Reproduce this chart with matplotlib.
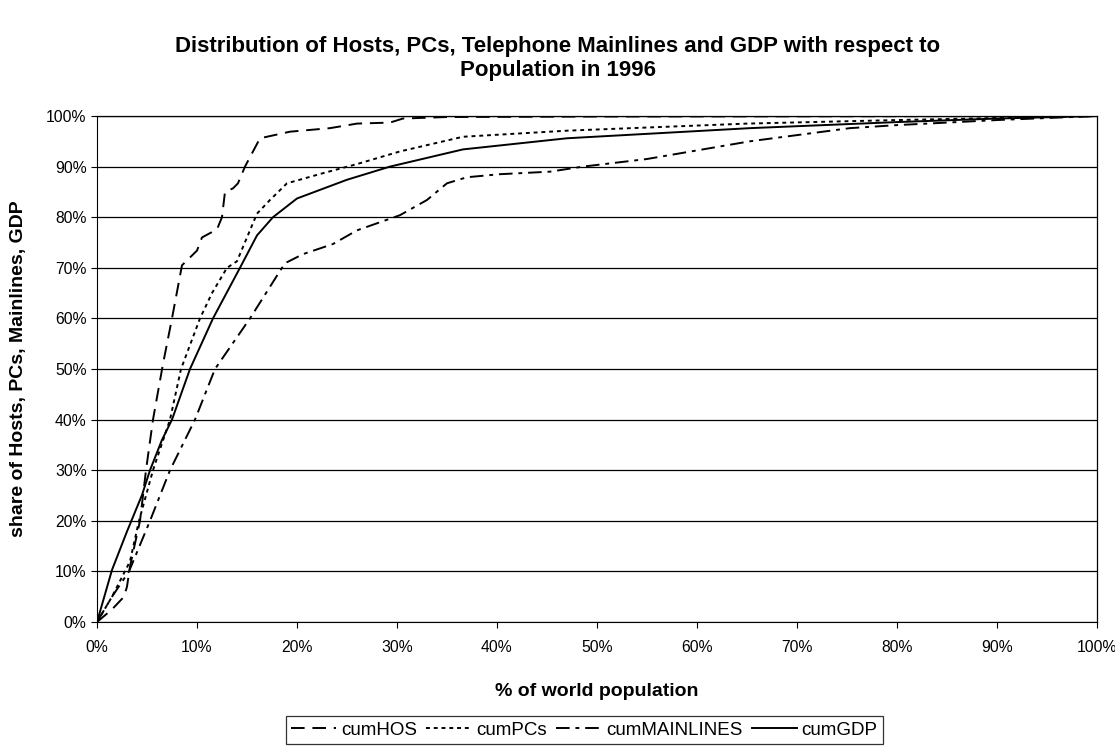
import matplotlib
matplotlib.use("Agg")
import matplotlib.pyplot as plt
from matplotlib.ticker import PercentFormatter

plt.rcParams["font.family"] = ["Liberation Sans", "DejaVu Sans"]

# cumulative share (%) vs share of world population (%)
hos_x = [0, 1.5, 2.7, 3.0, 3.3, 4.3, 4.9, 5.6, 6.6, 7.5, 8.5, 10.0, 10.5, 12.0, 12.5, 12.8,
         13.6, 14.1, 14.8, 16.3, 19.3, 23.3, 26.0, 29.3, 30.6, 35.0, 50.0, 100.0]
hos_y = [0, 2.5, 5.0, 7.0, 11.0, 20.0, 30.0, 40.0, 51.0, 60.0, 70.5, 73.4, 76.0, 77.6, 80.0, 85.0,
         85.7, 86.7, 90.0, 95.6, 96.9, 97.6, 98.5, 98.7, 99.5, 99.8, 99.9, 100.0]

pcs_x = [0, 1.5, 3.3, 4.2, 5.6, 7.3, 8.4, 10.3, 11.5, 13.0, 14.0, 16.0, 17.3, 19.0, 22.6,
         26.0, 30.3, 36.6, 47.0, 65.0, 80.0, 90.0, 100.0]
pcs_y = [0, 5.0, 12.0, 20.0, 30.0, 40.0, 50.0, 60.0, 65.0, 70.0, 71.3, 80.7, 83.4, 86.7, 88.7,
         90.5, 93.0, 95.9, 97.1, 98.5, 99.2, 99.6, 100.0]

main_x = [0, 1.5, 3.2, 5.3, 7.3, 9.8, 11.8, 15.3, 18.5, 19.0, 20.6, 23.6, 26.0, 30.3, 33.0,
          35.0, 37.0, 40.3, 45.3, 48.6, 55.0, 65.3, 75.3, 80.0, 90.0, 100.0]
main_y = [0, 5.0, 10.0, 20.0, 30.0, 40.0, 50.0, 60.0, 70.0, 71.1, 72.7, 74.7, 77.4, 80.4, 83.4,
          86.7, 87.9, 88.5, 89.0, 90.0, 91.5, 95.0, 97.6, 98.2, 99.2, 100.0]

gdp_x = [0, 1.5, 3.0, 4.5, 5.3, 6.5, 7.5, 9.3, 11.6, 14.3, 16.0, 17.6, 20.0, 25.0, 29.3,
         36.6, 47.0, 65.3, 80.0, 90.0, 100.0]
gdp_y = [0, 10.3, 17.9, 25.1, 30.0, 36.0, 40.0, 50.0, 60.0, 70.0, 76.4, 80.0, 83.7, 87.4, 90.0,
         93.4, 95.6, 97.6, 98.8, 99.5, 100.0]

fig = plt.figure(figsize=(11.15, 7.47), dpi=100)
ax = fig.add_axes([0.087, 0.1673, 0.8967, 0.6774])

ax.plot(hos_x, hos_y, color="black", lw=1.4, dashes=(7, 4), label="cumHOS")
ax.plot(pcs_x, pcs_y, color="black", lw=1.4, dashes=(2, 2), label="cumPCs")
ax.plot(main_x, main_y, color="black", lw=1.4, dashes=(7, 3, 2, 3), label="cumMAINLINES")
ax.plot(gdp_x, gdp_y, color="black", lw=1.4, label="cumGDP")

ax.set_xlim(0, 100)
ax.set_ylim(0, 100)
ax.set_xticks(range(0, 101, 10))
ax.set_yticks(range(0, 101, 10))
ax.xaxis.set_major_formatter(PercentFormatter(decimals=0))
ax.yaxis.set_major_formatter(PercentFormatter(decimals=0))
ax.tick_params(labelsize=11.3, length=4, direction="out", color="black")
ax.tick_params(axis="x", pad=9)
ax.grid(axis="y", color="black", lw=0.9)
ax.set_axisbelow(True)
for side in ["top", "right"]:
    ax.spines[side].set_color("black")
    ax.spines[side].set_linewidth(0.9)

ax.set_xlabel("% of world population", fontsize=14, fontweight="bold", labelpad=20)
ax.set_ylabel("share of Hosts, PCs, Mainlines, GDP", fontsize=14, fontweight="bold", labelpad=14)

fig.text(0.5, 0.922, "Distribution of Hosts, PCs, Telephone Mainlines and GDP with respect to\nPopulation in 1996",
         ha="center", va="center", fontsize=16, fontweight="bold", linespacing=1.2)

leg = fig.legend(loc="upper center", bbox_to_anchor=(0.524, 0.0415), ncol=4, fontsize=13.5,
                 frameon=True, fancybox=False, edgecolor="black", handlelength=2.4,
                 columnspacing=0.5, handletextpad=0.25, borderpad=0.3, borderaxespad=0)
leg.get_frame().set_linewidth(0.9)

fig.savefig("out.png", dpi=100)
